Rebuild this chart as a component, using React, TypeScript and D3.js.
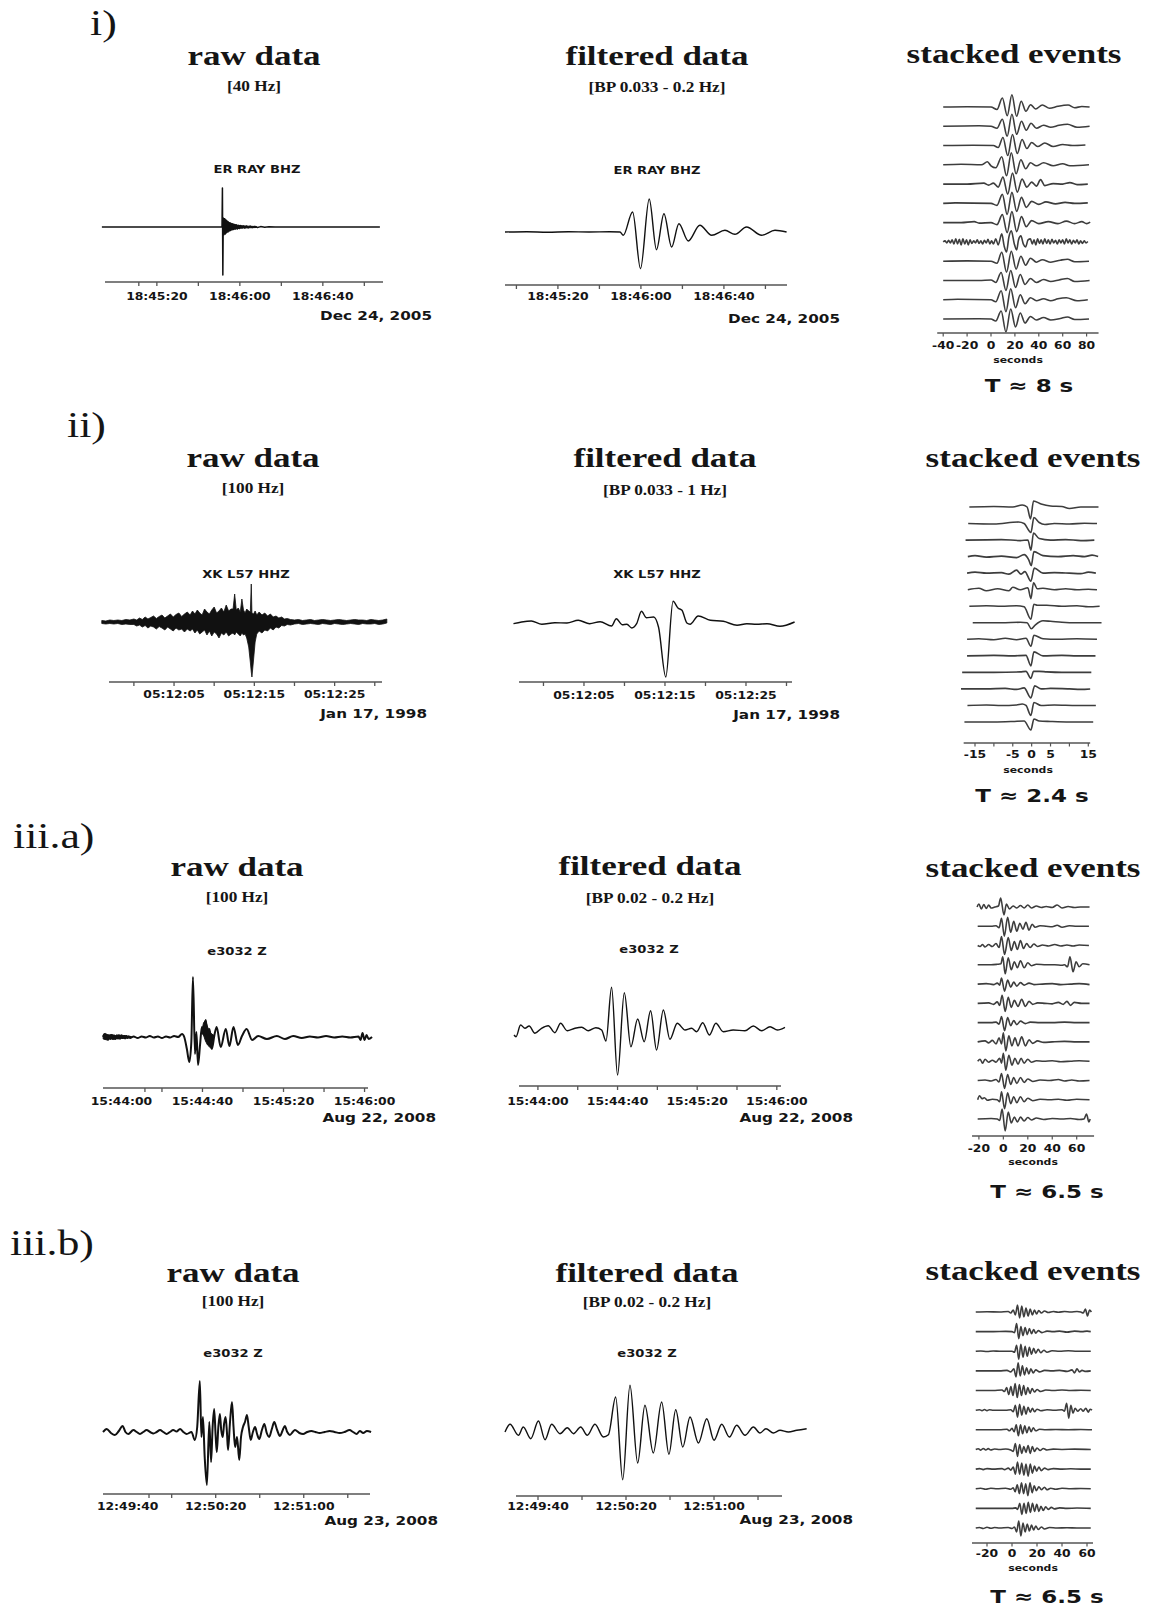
import React from "react";
import * as d3 from "d3";

type Pt = [number, number];
type Band = [number, number, number];

const SERIF = "'Liberation Serif', 'Times New Roman', serif";
const SANS = "'DejaVu Sans', sans-serif";
const SX = 1.25; // the source figure is stretched horizontally

// ---------- labels ----------
const rowLabels = ["i)", "ii)", "iii.a)", "iii.b)"];
const refTimes = ["2005-12-24T18:45:20Z", "1998-01-17T05:12:00Z", "2008-08-22T15:44:00Z", "2008-08-23T12:49:40Z"];
const stations = ["ER RAY BHZ", "XK L57 HHZ", "e3032 Z", "e3032 Z"];
const rawRates = ["[40 Hz]", "[100 Hz]", "[100 Hz]", "[100 Hz]"];
const bandPasses = ["[BP 0.033 - 0.2 Hz]", "[BP 0.033 - 1 Hz]", "[BP 0.02 - 0.2 Hz]", "[BP 0.02 - 0.2 Hz]"];
const periods = ["8", "2.4", "6.5", "6.5"];

// ---------- axis ticks (seconds after reference time) ----------
const rawTicks = [[-8.7, 0, 20, 40, 60, 80, 100], [0, 5, 10, 15, 20, 25, 30], [11.6, 20, 40, 60, 80, 100, 120], [9.7, 20, 40, 60, 80, 100]];
const rawTickLabels = [[0, 40, 80], [5, 15, 25], [0, 40, 80, 120], [0, 40, 80]];
const filtTicks = [[-20, 0, 20, 40, 60, 80, 100], [0, 5, 10, 15, 20, 25, 30], [0, 20, 40, 60, 80, 100, 120], [0, 20, 40, 60, 80, 100]];
const filtTickLabels = [[0, 40, 80], [5, 15, 25], [0, 40, 80, 120], [0, 40, 80]];
const stackTicks = [[-40, -20, 0, 20, 40, 60, 80], [-15, -10, -5, 0, 5, 10, 15], [-20, 0, 20, 40, 60], [-20, 0, 20, 40, 60]];
const stackTickLabels = [[-40, -20, 0, 20, 40, 60, 80], [-15, -5, 0, 5, 15], [-20, 0, 20, 40, 60], [-20, 0, 20, 40, 60]];

// ---------- raw traces [t, amplitude] ----------
const rawI: Pt[] = [[-26.5,0],[31.4,0],[31.6,39],[31.8,-48],[32.0,9],[32.2,-8],[32.4,8],[32.6,-7],[32.8,7],[33.0,-7],[33.2,6],[33.4,-6],[33.6,6],[33.8,-5],[34.0,5],[34.3,-5],[34.6,4],[34.9,-4],[35.2,4],[35.5,-3.5],[35.8,3.5],[36.2,-3],[36.6,3],[37.0,-2.5],[37.4,2.5],[37.8,-2],[38.3,2],[38.8,-2],[39.3,1.5],[39.8,-1.5],[40.4,1.5],[41,-1],[41.7,1],[42.4,-1],[43.2,1],[44,-0.8],[45,0.8],[46,-0.6],[47.2,0.6],[48.5,-0.5],[50,0.4],[52,-0.3],[54,0.2],[57,0],[107.5,0]];
const rawICoda: Band[][] = [
  [[31.9,1,-1],[32.2,9,-6],[33,8,-6],[34,6,-4.5],[35,4.5,-3],[36,3.5,-2.5],[37.5,2.5,-2],[39,1.8,-1.5],[41,1.2,-1],[44,0.8,-0.8],[48,0.5,-0.5]],
];

const rawIIEnv: Band[] = [
  [-4,1.5,-1.5],[-3.5,1,-2],[-3,2,-1.5],[-2.5,1.5,-2],[-2,2,-1.5],[-1.5,1.5,-2.5],[-1,2.5,-2],[-0.5,2,-2.5],
  [0,3,-2.5],[0.35,2,-4],[0.7,4,-3],[1.05,2.5,-5],[1.4,5,-3.5],[1.75,3,-6],[2.1,4.5,-4],[2.45,6,-5],[2.8,3.5,-7],[3.15,5.5,-4.5],[3.5,7,-6],[3.85,4,-8],[4.2,6,-5],[4.55,8,-7],[4.9,5,-9],[5.25,7.5,-6],[5.6,9,-8],[5.95,5.5,-7],[6.3,8,-10],[6.65,10,-7],
  [7,7,-9],[7.3,11,-7],[7.6,8,-11],[7.9,12,-8],[8.2,9,-12],[8.5,7,-10],[8.8,13,-8],[9.1,10,-13],[9.4,8,-9],[9.7,12,-14],[10,15,-10],[10.3,9,-12],[10.6,11,-16],[10.9,14,-11],[11.2,10,-13],[11.5,17,-10],[11.8,11,-14],[12.1,13,-12],
  [12.35,13,-11],[12.55,28,-13],[12.75,12,-10],[13.0,14,-12],[13.25,10,-14],[13.45,23,-11],[13.65,12,-13],[13.85,9,-12],[14.05,13,-16],[14.3,11,-25],[14.5,10,-40],[14.62,38,-50],[14.7,9,-55],[14.9,8,-38],[15.1,11,-20],[15.3,7,-12],
  [15.6,10,-9],[15.95,7,-11],[16.3,9,-8],[16.65,6,-9],[17,8,-6],[17.35,5,-8],[17.7,6,-5],[18.05,4,-6],[18.4,5,-3.5],[18.75,3,-4],[19.1,3.5,-2.5],[19.5,2.5,-3],
  [20,2,-2],[20.5,2.5,-1.5],[21,1.5,-2.5],[21.5,2,-2],[22,2.5,-1.5],[22.5,1.5,-2],[23,2,-2.5],[23.5,2.5,-1.5],[24,2,-2],[24.5,1.5,-2.5],[25,2,-1.5],[25.5,2.5,-2],[26,2,-2.5],[26.5,1.5,-2],[27,2,-1.5],[27.5,2.5,-2],[28,2,-2.5],[28.5,2,-1.5],[29,1.5,-2],[29.5,2.5,-2],[30,2,-1.5],[30.5,1.5,-2.5],[31,2,-2],[31.5,3,-1],
];

const rawIIIa: Pt[] = [[-9,0],[-8.4,3],[-7.8,-2],[-7.2,2],[-6.6,-3],[-6,1.5],[-5.4,-2],[-4.8,2],[-4.2,-1.5],[-3.6,1.5],[-3,-2],[-2.4,1.5],[-1.8,-1.5],[-1.2,2],[-0.6,-1.5],[0,1.5],[0.6,-1],[1.2,1],[1.8,-1.5],[2.4,1],[3,-1],[3.6,0.5],[4.3,-1],[6,0.5],[8,-1],[10,0.5],[12,-0.5],[14,1],[16,-0.5],[18,0.5],[20,-1],[22,0.5],[24,-0.5],[26,1],[28,0],[29.9,3],[31,0],[32.3,-12],[33.5,-25],[34.5,-5],[35.3,60],[36.3,-17],[37,5],[37.8,-28],[38.8,-8],[39.7,10],[40.5,3],[41.6,17],[42.5,2],[43.5,8],[44.6,-12],[46,3],[47,10],[49,-10],[51.5,8],[53.3,-9],[55.3,10],[57.5,-8],[59.5,1],[61.8,8],[64.5,-3],[67.5,1],[71.8,-2],[76.7,1],[80.7,-2],[84.8,1],[89,-1],[93,0.5],[97,-0.5],[101,1],[105,-0.5],[109,0.5],[113,-0.5],[117,0.5],[118,-3],[119,4],[120,-3],[121,2],[122,-2],[123.7,0]];
const rawIIIaNoise: Band[][] = [
  [[-9,2,-2],[-8,3.5,-2.5],[-7,2.5,-3],[-6,2,-2],[-5,2.5,-2],[-4,2,-2.5],[-3,1.5,-2],[-2,2,-1.5],[-1,1.5,-2],[0,2,-1.5],[1,1.5,-1.5],[2,1.5,-1.2],[3,1,-1],[4,0.7,-0.7],[5,0.4,-0.4]],
  [[39.5,4,4],[40.5,14,2],[41.5,17,-4],[42.5,10,-8],[43.5,6,-10],[44.5,3,-12],[45.5,2,0]],
];

const rawIIIb: Pt[] = [[-11.2,0],[-9.5,3],[-7.6,-1],[-5.8,-3],[-4,1],[-2.3,6],[-1,0],[0.3,-2],[2.6,2],[4.1,0],[5.6,-2],[7.1,0],[8.6,2],[10.2,0],[11.7,-1.5],[13.2,0],[14.7,2],[16.2,0],[17.7,-2],[19.2,0],[20.7,2],[22.2,0.5],[23.8,3],[25.3,0],[26.8,-2],[29,0],[30.5,-8],[31.6,5],[32.8,51],[33.5,-5],[34.2,15],[35,-25],[36,-53],[37.1,10],[37.9,-30],[38.6,5],[39.3,23],[40,-5],[40.5,-20],[41.2,5],[41.9,18],[42.5,2],[43.2,-5],[43.8,8],[44.5,15],[45.1,0],[45.6,-18],[46.5,10],[47.4,30],[48.1,5],[48.8,-15],[49.7,-5],[50.7,-28],[51.5,-5],[52.4,5],[53.3,10],[54.2,17],[55,5],[55.9,-8],[56.9,0],[57.9,5],[58.8,-2],[59.8,-7],[61,2],[62.1,8],[63.2,-1],[64.3,-5],[65.5,3],[66.6,10],[67.9,2],[69.2,-4],[70.3,1],[71.4,6],[72.5,0],[73.7,-3],[75,0],[76,2],[78,-1],[79.7,-2],[81.6,0],[83.5,1],[85.3,0],[87.2,-1],[89.5,0],[91.8,1],[94,0],[96.3,-1],[98.5,0],[100.8,2],[102.4,0],[104,-2],[105.5,1],[107,-1],[108.7,1],[110.6,0]];

// ---------- filtered traces ----------
const filtI: Pt[] = [[-25.5,0],[-15,0.3],[-5,-0.3],[5,0.3],[15,0],[25,0.2],[29.9,0],[31.5,-3.3],[36,20],[39.8,-36.7],[44,33],[47.5,-17.7],[51.1,18.3],[54.8,-15],[58.3,8.3],[62.8,-9],[68.4,6.7],[74.1,-3.3],[80.5,1.7],[85.3,-2.3],[90.9,5],[98.2,-3.3],[104.6,1.7],[110.2,0]];
const filtII: Pt[] = [[-3.7,-0.7],[-2.7,1],[-1.5,2],[-0.2,-1.3],[1.4,0.3],[2.9,0],[4.3,2.7],[5.7,-0.7],[7,1.3],[8.4,-3],[9,4.3],[9.7,-1.7],[10.3,-1.3],[10.9,-5],[11.5,-0.7],[12.1,11.7],[12.7,5.3],[13.6,6],[14.2,-4],[15.1,-54],[16,21.7],[16.6,15],[17.1,12.7],[17.7,0],[18.1,-1.3],[19.1,7],[20.6,2.7],[22.2,1.7],[23.9,-2.3],[25.1,-0.7],[26.3,-1.3],[27.6,-0.7],[29.2,-3.3],[31,1]];
const filtIIIa: Pt[] = [[-12,-5],[-11,-6.7],[-8.7,5],[-6.5,1.7],[-4.4,4],[-1.5,-3.3],[1.8,1.7],[5.2,4.3],[8.5,-2.7],[11.4,6.7],[14.7,-0.7],[18.6,1.7],[22,2.7],[25.3,-0.7],[29.1,2.3],[32,0],[34.2,-11],[37,42.7],[40,-45],[43.4,37.3],[46.7,-16.7],[50.1,11],[53.4,-11.7],[56.6,19.3],[59.6,-20],[63,20],[66.3,-9.3],[70,6.7],[73.9,0],[77.2,1.7],[79.7,-1.7],[82.8,7.3],[86.1,-5],[89.4,6.7],[93.1,-1.7],[98.1,0],[104,-0.7],[108.2,4],[112.4,-0.7],[116.6,3.3],[120.3,0],[124.1,2.7]];
const filtIIIb: Pt[] = [[-15,0],[-12.7,7.7],[-8.9,-3.3],[-6.7,5],[-3.3,-6.7],[0.2,11],[3.2,-7.7],[6.2,7.7],[10,-1.7],[13.3,4.3],[16.1,-1.7],[19.4,5],[22.4,-3.3],[25.9,7.7],[29.7,-5],[32,-2.7],[35.3,35],[38.5,-47.7],[41.8,46.7],[45.3,-31],[48.6,26.7],[52.4,-21],[56.2,30],[59.5,-22.3],[62.6,22.3],[65.8,-15],[69.1,15],[72.9,-11],[76.7,13.3],[80,-8.3],[83.5,7.7],[87,-5],[90.3,6.7],[94.1,-3.3],[97.9,5],[100.9,-1],[103.6,3.3],[107,-1],[110,1.7],[113.8,0],[117.6,1.7],[122.1,3.3]];

// ---------- stacked events ----------
const stackI: Pt[][] = [
  [[-40,0],[-20,0.3],[0,0],[5,-2.5],[9.5,9],[13.6,-8.7],[17.5,12.3],[21.4,-9.3],[25.3,5.7],[29.2,-4.3],[33.1,2.3],[37.3,-2],[43,2],[49,-1.3],[56,0.7],[64.5,2],[70,-0.7],[76,0.5],[82.5,0]],
  [[-40,0],[-10,0.5],[0,0],[5,-2],[9.5,7],[13.5,-10],[17.5,12],[21.5,-8],[25.5,5],[29.5,-4],[33.5,3],[38,-2],[44,1],[50,-1],[57,1],[64,2],[72,-1],[82.5,0]],
  [[-40,0],[-15,0.3],[2,0],[6,-2],[10,8],[14,-10],[18,11],[22,-8],[26,6],[30,-3],[34,3],[39,-1],[45,2.5],[52,-1],[60,1],[68,0],[79,0.5]],
  [[-40,0],[-25,0.5],[-8,0],[-3,3],[0,-1],[4,-3],[9,8],[13,-11],[17,12],[21,-9],[25,5],[29,-4],[33,2],[38,-1],[44,2],[52,-1],[60,1],[66,-1],[82,0]],
  [[-40,0],[-20,0],[-6,1],[-2,-1],[2,1],[6,-3],[10,7],[14,-10],[18,11],[22,-8],[26,5],[30,-3],[34,2],[38,-2],[41.5,4.5],[45,-1.5],[52,0.5],[60,0],[66,1.5],[72,-0.5],[81,0]],
  [[-40,0],[-30,0.5],[0,0],[5,-2],[9.5,9],[13.5,-11],[17.5,11],[21.5,-8],[25.5,6],[29.5,-4],[34,2],[40,-1],[46,1.5],[54,-0.5],[62,1],[70,0],[81,0.5]],
  [[-40,0],[-25,0],[-14,1],[-10,-0.5],[0,0],[5,-2],[9.5,8],[13.5,-10],[17.5,11],[21.5,-9],[25.5,6],[29.5,-4],[34,2],[40,-1],[48,1],[56,-1],[63,1.5],[70,-1],[76,1],[80,-1],[83,0.5]],
  [[-40,0],[-38.5,1],[-37,-1],[-35.5,1.5],[-34,-1],[-32.5,2],[-31,-2],[-29.5,3],[-28,-2],[-26.5,2.5],[-25,-3],[-23.5,3],[-22,-2],[-20.5,2],[-19,-3],[-17.5,2],[-16,-1.5],[-14.5,1],[-13,-1],[-11.5,2],[-10,-1.5],[-8.5,1],[-7,-2],[-5.5,1.5],[-4,-1],[-2.5,2.5],[-1,-2],[0.5,1],[2,-2],[4,3],[6,-3],[9,8],[11,-4],[13,-10],[15,5],[17,11],[19.5,-2],[21.5,-8],[23,2],[25,6],[27,-2],[29,-5],[31,2],[33,3],[34.5,-2],[36,2],[37.5,-3],[39,3],[40.5,-1.5],[42,2],[43.5,-2],[45,3],[46.5,-1.5],[48,2],[49.5,-2],[51,2.5],[52.5,-1],[54,1.5],[55.5,-2],[57,2],[58.5,-1],[60,2],[61.5,-2],[63,3],[64.5,-1],[66,2],[67.5,-2],[69,1.5],[70.5,-1],[72,2],[73.5,-2],[75,1],[76.5,-1.5],[78,1],[79.5,-1],[81,0.5]],
  [[-40,0],[-20,0.3],[0,0],[5,-2],[9,9],[13,-11],[17,10],[21,-8],[25,5],[29,-4],[33,3],[38,-1],[43,1.5],[50,-1],[58,1],[64,2],[70,-0.5],[82,0]],
  [[-40,0],[-10,0],[0,0.5],[4,-2],[8.5,8],[12.5,-10],[16.5,10],[20.5,-7],[24.5,6],[28.5,-4],[33,2],[38,-2],[44,1],[50,-1],[57,0.5],[64,2],[70,-1],[82.5,0]],
  [[-40,0],[-28,0.5],[0,0],[4,-2],[8.5,9],[12.5,-12],[16.5,11],[20.5,-8],[24.5,5],[28.5,-4],[33,2],[38,-1],[44,1],[50,-1],[56,1],[63,2],[72,-1],[81,0]],
  [[-40,0],[-10,0.3],[0,0],[4,-2],[8.5,8],[12.5,-13],[16.5,10],[20.5,-8],[24.5,6],[28.5,-4],[33,2.5],[38,-1],[44,1.5],[50,-1],[58,0.5],[64,2],[70,-0.5],[82,0]],
];

const stackII: Pt[][] = [
  [[-16.5,0],[-10,0.5],[-5,0],[-2.5,2],[-1.2,0],[-0.3,-12],[0.5,6],[2.5,3],[5,1],[8,0.5],[10,-1.5],[13,0],[17.7,0]],
  [[-16.8,0],[-10,-0.5],[-3.5,1.5],[-2,0],[-0.2,-9],[0.6,6],[2,1],[3.5,-1],[6,0],[10,-0.5],[14,0.3],[17.3,0]],
  [[-17.5,0],[-8,0.5],[-3,-0.5],[-1,0],[-0.2,-10],[0.5,7],[2,1.5],[5,0],[9,0.5],[13,-0.5],[16.6,0]],
  [[-16.9,0],[-15,1],[-12,-0.5],[-8,0.5],[-4,-1],[-2,2],[-0.8,-3],[-0.1,-9],[0.6,5],[3,1],[7,0],[11,1],[14,0],[16,1.5],[17.6,0]],
  [[-17.1,0],[-15,1],[-12,0],[-8,0.5],[-6,-1],[-4,3],[-2.8,-1],[-1.8,1.5],[-0.2,-8],[0.7,5],[3,0],[6,0.5],[10,0],[13,-0.5],[15,1],[17,0]],
  [[-16.9,0],[-14,1.5],[-12,-1],[-9,1],[-6,-1],[-5,2.5],[-3,0],[-1,2],[-0.2,-9],[0.5,7],[1.5,1],[3,1.5],[6,0],[9,1],[12,0],[15,0.5],[17.3,0]],
  [[-16.5,0],[-12,0.5],[-8,0],[-4,0.5],[-2,-0.5],[-0.2,-13],[0.6,2],[1.5,1],[4,1],[8,0],[12,0.5],[15,-0.5],[18,0]],
  [[-15.6,0],[-8,0],[-3,0.5],[-1.2,0],[-0.1,-6],[1,-2],[3,2],[5,1.5],[8,0.5],[12,0],[18.5,0]],
  [[-17.1,0],[-14,0.5],[-10,-0.5],[-7,1],[-4,-0.5],[-1.5,1],[-0.2,-7],[0.6,4],[3,0.5],[7,0],[12,0.5],[17.3,0]],
  [[-17.1,0],[-10,0.5],[-5,0],[-1.5,0.5],[-0.2,-10],[0.6,4],[3,0],[8,0.5],[12,0],[16.9,0]],
  [[-18.4,0],[-10,0],[-3,0.5],[-1.5,1],[-0.2,-6],[0.5,1],[2,1],[4,0.5],[8,0],[15.8,0]],
  [[-18.7,0],[-12,0],[-7,0.5],[-4,-0.5],[-2,1],[-0.2,-9],[0.8,3],[2.5,0],[5,0.5],[10,0],[13,-0.5],[15.5,0]],
  [[-17,0],[-12,0.5],[-8,0],[-4,0.5],[-2.5,1.5],[-1.5,0],[-0.2,-10],[0.6,3],[2.5,0],[6,0.5],[12,0],[17,0]],
  [[-17.8,0],[-10,0],[-5,0.5],[-2,1],[-0.2,-8],[0.6,3],[2,1],[5,0.5],[10,0],[16.3,0]],
];

const stackIIIa: Pt[][] = [
  [[-21.5,0],[-20,3],[-18,-2],[-16,2.5],[-14,-1.5],[-12,2],[-10,-1],[-7,0],[-4,1],[-2.2,9],[0.5,-8],[2.5,3],[5,-2],[8,1],[11,-1],[14,1.5],[17,-1],[20,2],[23,-1],[27,1],[31,-0.5],[35,0.5],[40,-0.5],[44,2],[48,-1],[53,0.5],[58,-0.5],[63,0],[70.5,0]],
  [[-21,0],[-10,0],[-6,0.5],[-3.5,-1.5],[-1.5,8],[0.8,-10],[3.5,9],[6,-6],[8.5,5],[11,-5],[13.5,3],[16,-3],[18.5,4],[21,-4],[23.5,2],[26,-1],[30,0.5],[35,0],[40,-0.5],[44,1],[48,-1],[54,0.5],[60,0],[70,0]],
  [[-21,0],[-19,-1],[-17,1],[-15,-1.5],[-12,1],[-9,-1],[-6,2],[-3.5,-2],[-1.5,9],[1,-9],[4,8],[6.5,-5],[9,4],[11.5,-4],[14,5],[16.5,-3],[19,2],[22,-2],[25,1.5],[28,-1],[32,0.5],[37,-0.5],[42,1],[47,-0.5],[52,0.5],[57,-0.5],[62,0.5],[70,0]],
  [[-21,0],[-10,0],[-5,0.5],[-2,1],[-0.5,8],[1.5,-9],[4,7],[6.5,-5],[9,3],[11.5,-3],[14,4],[17,-3],[20,2],[23,-1],[27,0.5],[35,0],[42,0],[48,-0.5],[50,0],[52.5,-2],[54.5,8],[57,-7],[59.5,3],[62,-2],[65,1],[70.5,0]],
  [[-21,0],[-14,0.5],[-8,-0.5],[-5,1],[-3,-1],[-1.5,6],[1,-7],[3.5,4],[6,-3],[8.5,2],[11,-2],[14,1.5],[17,-1],[21,1],[25,-0.5],[32,0],[40,0.5],[47,-0.5],[55,0],[62,0.5],[70.5,-0.5]],
  [[-21,0],[-12,0.5],[-8,-1],[-5,1.5],[-3,-2],[-1,8],[1.5,-8],[4,6],[6.5,-4],[9,3],[12,-3],[15,4],[18,-3],[21,2],[24,-1],[28,0.5],[34,0],[40,-0.5],[45,1],[49,-1],[52,2],[55,-2],[58,1],[64,0],[70.5,0]],
  [[-21,0],[-10,0],[-6,0.5],[-3.5,-1.5],[-1.5,6],[1,-8],[3.5,5],[6,-3],[8.5,2],[11,-2],[14,1.5],[18,-1],[22,0.5],[30,0],[40,0],[50,0.5],[60,0],[70.5,0]],
  [[-21,0],[-15,1],[-12,-1],[-9,1.5],[-6,-2],[-3.5,4],[-1.5,-2],[0,9],[2,-9],[4.5,6],[7,-4],[9.5,4],[12,-4],[15,5],[18,-4],[21,2],[24,-1.5],[28,1],[33,-0.5],[40,0],[50,0.5],[60,0],[70.5,0]],
  [[-21,0],[-19,2],[-17,-2],[-15,2],[-12,-1],[-9,1],[-6,-1],[-3,3],[-1.5,-2],[0,8],[2,-9],[4.5,6],[7,-4],[9.5,3],[12,-3],[14.5,3],[17,-2],[20,2],[23,-1],[27,0.5],[33,0],[40,0.5],[47,-0.5],[55,0],[62,0.5],[70.5,0]],
  [[-21,0],[-15,0.5],[-10,-0.5],[-6,1],[-3.5,-1.5],[-1.5,7],[1,-8],[3.5,6],[6,-4],[8.5,3],[11,-3],[14,3],[17,-2],[20,1.5],[24,-1],[30,0.5],[38,0],[45,1],[50,-0.5],[56,0.5],[62,-0.5],[70.5,0]],
  [[-21,0],[-19.5,4],[-17.5,1],[-15.5,2],[-13,-0.5],[-9,0.5],[-5,0],[-3,-2],[-1.5,8],[1,-9],[3.5,7],[6,-4],[8.5,3],[11,-3],[14,3],[17,-2],[20,1.5],[24,-1],[30,0.5],[38,0],[45,0.5],[52,-0.5],[60,0.5],[70.5,0]],
  [[-21,0],[-10,0.5],[-5,0],[-3,-1.5],[-1,10],[1.5,-12],[4,7],[6.5,-4],[9,2],[11.5,-3],[14,2],[17,-2],[20,1.5],[23,-1],[27,1],[33,-0.5],[40,0.5],[48,0],[55,0.5],[62,-0.5],[66,0],[68,5],[70,-3],[71,0]],
];

const stackIIIb: Pt[][] = [
  [[-29,0],[-20,0.3],[-10,0],[-3,0.5],[-1,-1],[1,2],[2.7,-3],[4.4,7],[6.1,-6],[7.8,6],[9.5,-5],[11.2,4],[12.9,-4],[14.6,3],[16.3,-3],[18,2],[19.7,-2],[21.4,1.5],[23.5,-1],[26,1],[29,-0.5],[33,0.5],[37,-0.3],[42,0.5],[47,0],[52,0.5],[55,0],[57,-1],[58.7,3],[60.4,-4],[62,2],[63.5,0]],
  [[-29,0],[-15,0],[-5,0.3],[0,0],[2,-1],[3.7,8],[5.4,-7],[7.1,5],[8.8,-4],[10.5,4],[12.2,-3],[13.9,3],[15.6,-2],[17.3,2],[19,-1.5],[21,1],[24,-1],[28,0.5],[33,0],[38,0.5],[44,-0.5],[50,0.5],[56,0],[60,0.5],[63,0]],
  [[-29,0],[-25,0.3],[-20,-0.3],[-15,0.3],[-10,0],[0,0],[2,-1],[3.7,6],[5.4,-8],[7.1,7],[8.8,-6],[10.5,5],[12.2,-5],[13.9,4],[15.6,-3],[17.3,3],[19,-2],[21,2],[23,-1.5],[25.5,1],[28,-1],[32,0.5],[38,0],[45,0.5],[52,0],[63,0]],
  [[-29,0],[-10,0],[-4,0.5],[-1,-1],[1.5,2],[3.2,-6],[4.9,8],[6.6,-5],[8.3,5],[10,-4],[11.7,3],[13.4,-3],[15.1,2],[17,-2],[19,1],[22,-1],[26,0.5],[32,0],[38,0.5],[44,-0.5],[48,1],[50,-2],[52,2],[54,-1],[56,0.5],[59,-0.5],[63,0]],
  [[-29,0],[-15,0],[-8,0.5],[-6,-1],[-4.3,3],[-2.6,-4],[-0.9,4],[0.8,-5],[2.5,7],[4.2,-7],[5.9,6],[7.6,-5],[9.3,5],[11,-4],[12.7,3],[14.4,-3],[16.1,2],[18,-1.5],[20,1],[23,-1],[27,0.5],[33,0],[40,0.5],[47,0],[55,0.3],[63,0]],
  [[-29,0],[-26,0.5],[-24,-0.5],[-22,0.7],[-20,-0.5],[-18,0.5],[-15,0],[-5,0],[-1,0.5],[1,-1.5],[2.7,5],[4.4,-7],[6.1,6],[7.8,-5],[9.5,4],[11.2,-4],[12.9,3],[14.6,-2],[16.3,2],[18,-1.5],[20,1],[23,-0.5],[28,0.5],[34,0],[40,0.5],[42,-1],[43.7,7],[45.4,-8],[47.1,5],[48.8,-3],[50.5,2],[52.5,-1],[55,1.5],[57,-1],[59,2],[61,-2],[62.5,1],[64,0]],
  [[-29,0],[-10,0],[-4,0.5],[-2,-1],[0,1.5],[1.7,-2],[3.4,5],[5.1,-6],[6.8,5],[8.5,-4],[10.2,4],[11.9,-3],[13.6,3],[15.3,-2],[17,2],[19,-1],[22,0.5],[27,0],[35,0.3],[45,0],[55,0.3],[64,0]],
  [[-29,0],[-27,0.7],[-25,-0.7],[-23,1],[-21,-0.5],[-19,0.8],[-17,-0.5],[-14,0.5],[-10,0],[-5,0.5],[-1,-0.5],[1,-2],[2.7,6],[4.4,-7],[6.1,5],[7.8,-4],[9.5,3],[11.2,-3],[12.9,4],[14.6,-4],[16.3,3],[18,-2],[20,1.5],[22.5,-1],[25,1],[28,-0.5],[33,0.3],[40,0],[50,0.3],[63,0]],
  [[-29,0],[-26,0.5],[-23,-0.5],[-20,0.5],[-15,0],[-8,0.5],[-6,-0.5],[-3,1],[-1,-1],[1,2],[2.7,-5],[4.4,7],[6.1,-5],[7.8,6],[9.5,-6],[11.2,5],[12.9,-7],[14.6,5],[16.3,-4],[18,3],[19.7,-2],[21.5,2],[23.5,-1.5],[26,1],[29,-0.5],[33,0.5],[40,0],[47,0.3],[55,0],[63,0]],
  [[-29,0],[-25,0.5],[-21,-0.5],[-17,0.5],[-12,0],[-5,0.5],[-1,-0.5],[1,1],[2.5,-3],[4.2,4],[5.9,-5],[7.6,6],[9.3,-5],[11,5],[12.7,-7],[14.4,6],[16.1,-4],[17.8,3],[19.5,-2],[21.5,2],[23.5,-1],[26,1.5],[28,-1],[31,0.5],[35,-0.5],[40,0.5],[47,0],[55,0.3],[63,0]],
  [[-29,0],[-15,0],[0,0],[3,0.5],[4.5,-1],[6.2,5],[7.9,-6],[9.6,5],[11.3,-5],[13,6],[14.7,-4],[16.4,5],[18.1,-3],[19.8,4],[21.5,-3],[23.2,2],[25,-2],[27,1.5],[29,-1],[31.5,1],[34,-0.5],[38,0.5],[44,0],[52,0.3],[63,0]],
  [[-29,0],[-26,0.5],[-23,-0.5],[-20,0.7],[-17,-0.3],[-14,0.5],[-10,0],[-3,0.5],[0,-0.5],[2,1],[3.7,-4],[5.4,7],[7.1,-8],[8.8,5],[10.5,-4],[12.2,4],[13.9,-3],[15.6,3],[17.3,-2],[19,2],[21,-1.5],[23.5,1],[26,-1],[30,0.5],[36,0],[44,0.3],[52,0],[63,0]],
];

const rawTraces = [rawI, null, rawIIIa, rawIIIb];
const rawEnvelopes: (Band[] | null)[] = [null, rawIIEnv, null, null];
const rawNoise: Band[][][] = [rawICoda, [], rawIIIaNoise, []];
const filtTraces = [filtI, filtII, filtIIIa, filtIIIb];
const stacks = [stackI, stackII, stackIIIa, stackIIIb];

// ---------- layout ----------
const labelPos = [{ x: 90, y: 35 }, { x: 67, y: 437 }, { x: 13, y: 848 }, { x: 10, y: 1255 }];
const rawL = [
  { cx: 254, titleY: 65, subY: 91, stX: 257, stY: 173, base: 227, dom: [-25, 109], x0: 105, x1: 383, axisY: 282, labY: 300, dateX: 432, dateY: 320 },
  { cx: 253, titleY: 467, subY: 493, stX: 246, stY: 578, base: 622, dom: [-3.1, 30.9], x0: 109, x1: 382, axisY: 682, labY: 698, dateX: 427, dateY: 718 },
  { cx: 237, titleY: 876, subY: 902, stX: 237, stY: 955, base: 1037, dom: [-9.1, 121.7], x0: 103, x1: 368, axisY: 1088, labY: 1105, dateX: 436, dateY: 1122 },
  { cx: 233, titleY: 1282, subY: 1306, stX: 233, stY: 1357, base: 1432, dom: [-11.2, 110.1], x0: 103, x1: 370, axisY: 1494, labY: 1510, dateX: 438, dateY: 1525 },
];
const filtL = [
  { cx: 657, titleY: 65, subY: 92, stX: 657, stY: 174, base: 232, dom: [-25.5, 110.4], x0: 505, x1: 787, axisY: 285, labY: 300, dateX: 840, dateY: 323 },
  { cx: 665, titleY: 467, subY: 495, stX: 657, stY: 578, base: 623, dom: [-3.02, 30.68], x0: 519, x1: 792, axisY: 682, labY: 699, dateX: 840, dateY: 719 },
  { cx: 650, titleY: 875, subY: 903, stX: 649, stY: 953, base: 1030, dom: [-9.5, 122.1], x0: 519, x1: 781, axisY: 1086, labY: 1105, dateX: 853, dateY: 1122 },
  { cx: 647, titleY: 1282, subY: 1307, stX: 647, stY: 1357, base: 1432, dom: [-10, 110.9], x0: 516, x1: 782, axisY: 1496, labY: 1510, dateX: 853, dateY: 1524 },
];
const stackL = [
  { cx: 1014, titleY: 63, top: 107, bottom: 319, dom: [-40, 80], x0: 943.2, x1: 1086.6, axis: [-45, 90], axisY: 333, labY: 349, secX: 1018, secY: 363, tX: 1029, tY: 392 },
  { cx: 1033, titleY: 467, top: 507, bottom: 722, dom: [-15, 15], x0: 975, x1: 1088.3, axis: [-18, 15.5], axisY: 743, labY: 758, secX: 1028, secY: 773, tX: 1032, tY: 802 },
  { cx: 1033, titleY: 877, top: 907, bottom: 1119, dom: [-20, 60], x0: 978.9, x1: 1076.7, axis: [-25.6, 74.2], axisY: 1136, labY: 1152, secX: 1033, secY: 1165, tX: 1047, tY: 1198 },
  { cx: 1033, titleY: 1280, top: 1312, bottom: 1528, dom: [-20, 60], x0: 987, x1: 1087, axis: [-32, 64.8], axisY: 1543, labY: 1557, secX: 1033, secY: 1571, tX: 1047, tY: 1603 },
];

const fmtTime = d3.utcFormat("%H:%M:%S");
const fmtDate = d3.utcFormat("%b %d, %Y");

const Txt = ({ x, y, size, font = SANS, weight = "bold", anchor = "middle", fill = "#151515", children }: any) => (
  <text transform={`translate(${x},${y}) scale(${SX},1)`} fontSize={size} fontFamily={font} fontWeight={weight} textAnchor={anchor} fill={fill}>
    {children}
  </text>
);

function Seismogram({ r, L, title, sub, trace, env, noise, ticks, tickLabels, curve, sw }: any) {
  const ref = Date.parse(refTimes[r]);
  const at = (s: number) => new Date(ref + s * 1000);
  const x = d3.scaleUtc().domain([at(L.dom[0]), at(L.dom[1])]).range([L.x0, L.x1]);
  const y = d3.scaleLinear().domain([-1, 1]).range([L.base + 1, L.base - 1]);
  const line = d3.line<Pt>().x((d) => x(at(d[0]))).y((d) => y(d[1])).curve(curve);
  const area = d3.area<Band>().x((d) => x(at(d[0]))).y0((d) => y(d[2])).y1((d) => y(d[1]));
  return (
    <g>
      <Txt x={L.cx} y={L.titleY} size={28} font={SERIF}>{title}</Txt>
      <Txt x={L.cx} y={L.subY} size={13.8} font={SERIF}>{sub}</Txt>
      <Txt x={L.stX} y={L.stY} size={10.5}>{stations[r]}</Txt>
      {env && <path d={area(env) || ""} fill="#111" stroke="#111" strokeWidth={0.8} strokeLinejoin="round" />}
      {noise.map((b: Band[], i: number) => (
        <path key={i} d={area(b) || ""} fill="#111" stroke="#111" strokeWidth={1} />
      ))}
      {trace && <path d={line(trace) || ""} fill="none" stroke="#111" strokeWidth={sw} strokeLinejoin="round" />}
      <line x1={L.x0} x2={L.x1} y1={L.axisY} y2={L.axisY} stroke="#555" strokeWidth={1.5} />
      {ticks.map((t: number) => (
        <line key={t} x1={x(at(t))} x2={x(at(t))} y1={L.axisY} y2={L.axisY + 4} stroke="#555" strokeWidth={1.3} />
      ))}
      {tickLabels.map((t: number) => (
        <Txt key={t} x={x(at(t))} y={L.labY} size={9.9}>{fmtTime(at(t))}</Txt>
      ))}
      <Txt x={L.dateX} y={L.dateY} size={12.2} anchor="end">{fmtDate(at(0))}</Txt>
    </g>
  );
}

function Stack({ r }: { r: number }) {
  const L = stackL[r];
  const traces = stacks[r];
  const x = d3.scaleLinear().domain(L.dom).range([L.x0, L.x1]);
  const row = d3.scaleLinear().domain([0, traces.length - 1]).range([L.top, L.bottom]);
  return (
    <g>
      <Txt x={L.cx} y={L.titleY} size={28} font={SERIF}>stacked events</Txt>
      {traces.map((tr, i) => {
        const y = d3.scaleLinear().domain([-1, 1]).range([row(i) + 1, row(i) - 1]);
        const line = d3.line<Pt>().x((d) => x(d[0])).y((d) => y(d[1])).curve(d3.curveMonotoneX);
        return <path key={i} d={line(tr) || ""} fill="none" stroke="#3d3d3d" strokeWidth={1.6} strokeLinejoin="round" />;
      })}
      <line x1={x(L.axis[0])} x2={x(L.axis[1])} y1={L.axisY} y2={L.axisY} stroke="#555" strokeWidth={1.5} />
      {stackTicks[r].map((t) => (
        <line key={t} x1={x(t)} x2={x(t)} y1={L.axisY} y2={L.axisY + 3.5} stroke="#555" strokeWidth={1.2} />
      ))}
      {stackTickLabels[r].map((t) => (
        <Txt key={t} x={x(t)} y={L.labY} size={9.9}>{String(t)}</Txt>
      ))}
      <Txt x={L.secX} y={L.secY} size={8.7}>seconds</Txt>
      <Txt x={L.tX} y={L.tY} size={18.4}>{`T \u2248 ${periods[r]} s`}</Txt>
    </g>
  );
}

export default function App() {
  return (
    <svg width={1149} height={1612} style={{ position: "absolute", left: 0, top: 0 }}>
      <rect width={1149} height={1612} fill="#fff" />
      {rowLabels.map((lab, r) => (
        <g key={r}>
          <Txt x={labelPos[r].x} y={labelPos[r].y} size={35} font={SERIF} weight="normal" anchor="start">{lab}</Txt>
          <Seismogram r={r} L={rawL[r]} title="raw data" sub={rawRates[r]} trace={rawTraces[r]} env={rawEnvelopes[r]} noise={rawNoise[r]}
            ticks={rawTicks[r]} tickLabels={rawTickLabels[r]} curve={r === 0 ? d3.curveLinear : d3.curveMonotoneX} sw={r >= 2 ? 2 : 1.5} />
          <Seismogram r={r} L={filtL[r]} title="filtered data" sub={bandPasses[r]} trace={filtTraces[r]} env={null} noise={[]}
            ticks={filtTicks[r]} tickLabels={filtTickLabels[r]} curve={d3.curveMonotoneX} sw={1.4} />
          <Stack r={r} />
        </g>
      ))}
    </svg>
  );
}
